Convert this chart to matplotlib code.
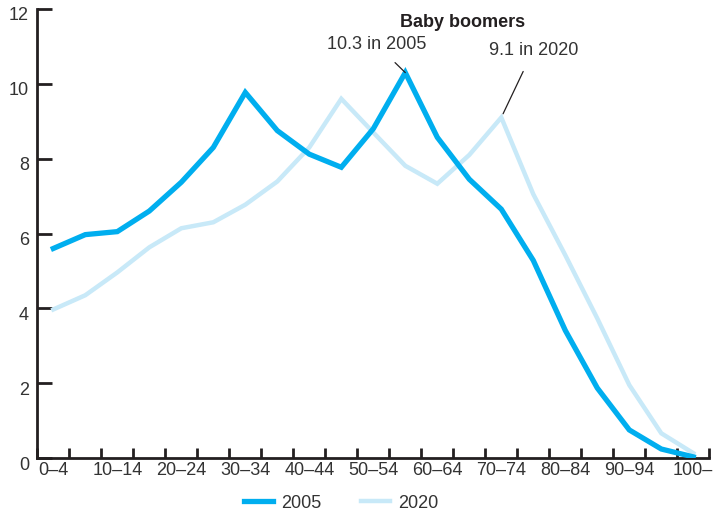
import matplotlib
matplotlib.use("Agg")
import matplotlib.pyplot as plt
import matplotlib.transforms as mtransforms
import numpy as np

categories = ["0–4", "5–9", "10–14", "15–19", "20–24", "25–29", "30–34", "35–39",
              "40–44", "45–49", "50–54", "55–59", "60–64", "65–69", "70–74", "75–79",
              "80–84", "85–89", "90–94", "95–99", "100–"]
values_2005 = [5.6, 5.97, 6.05, 6.6, 7.37, 8.3, 9.77, 8.75, 8.12, 7.77, 8.8, 10.3,
               8.57, 7.45, 6.65, 5.28, 3.41, 1.87, 0.75, 0.24, 0.03]
values_2020 = [3.97, 4.35, 4.96, 5.63, 6.14, 6.3, 6.77, 7.39, 8.3, 9.6, 8.7, 7.81,
               7.33, 8.1, 9.1, 7.05, 5.42, 3.73, 1.95, 0.66, 0.13]
yticks = [0, 2, 4, 6, 8, 10, 12]

dark = "#00AEEF"
light = "#C8E9F8"
txt = "#333333"

plt.rcParams["font.family"] = ["Liberation Sans", "DejaVu Sans"]
FS = 13

W, H = 714, 516
fig = plt.figure(figsize=(W / 100, H / 100), dpi=100)
ax = fig.add_axes([37.3 / W, 1 - 458 / H, (709.3 - 37.3) / W, (458 - 9) / H])

x = np.arange(len(categories))
ax.plot(x, values_2020, color=light, lw=3.2, solid_joinstyle="miter", label="2020", zorder=2)
ax.plot(x, values_2005, color=dark, lw=3.8, solid_joinstyle="miter", label="2005", zorder=3)

ax.set_xlim(-0.5, len(categories) - 0.5)
ax.set_ylim(0, 12)

for s in ["top", "right"]:
    ax.spines[s].set_visible(False)
for s in ["left", "bottom"]:
    ax.spines[s].set_linewidth(2.0)
    ax.spines[s].set_color("#231f20")

ax.set_yticks(yticks)
ax.set_yticklabels([str(v) for v in yticks])
ax.tick_params(axis="y", direction="in", length=11, width=2.0, color="#231f20",
               labelsize=FS, labelcolor=txt, pad=6)
offset = mtransforms.ScaledTranslation(0, -5 / 100, fig.dpi_scale_trans)
for lab in ax.get_yticklabels():
    lab.set_transform(lab.get_transform() + offset)

ax.set_xticks(np.arange(-0.5, len(categories) - 0.4, 1.0))
ax.set_xticklabels([])
ax.set_xticks(x[::2], minor=True)
ax.set_xticklabels([categories[i] for i in x[::2]], minor=True)
ax.tick_params(axis="x", which="major", direction="in", length=7.5, width=2.0, color="#231f20")
ax.tick_params(axis="x", which="minor", length=0, labelsize=FS, labelcolor=txt, pad=3)

# Annotations
ax.text(12.8, 11.65, "Baby boomers", ha="center", va="center", fontsize=FS,
        fontweight="bold", color="#231f20")
ax.annotate("10.3 in 2005", xy=(11, values_2005[11]), xytext=(10.1, 11.05),
            ha="center", va="center", fontsize=FS, color=txt,
            arrowprops=dict(arrowstyle="-", color="#231f20", lw=0.9,
                            shrinkA=7, shrinkB=0))
ax.annotate("9.1 in 2020", xy=(14, values_2020[14]), xytext=(15.0, 10.9),
            ha="center", va="center", fontsize=FS, color=txt,
            arrowprops=dict(arrowstyle="-", color="#231f20", lw=0.9,
                            shrinkA=8, shrinkB=3))

handles, labels = ax.get_legend_handles_labels()
order = [1, 0]
fig.legend([handles[i] for i in order], [labels[i] for i in order],
           loc="center", bbox_to_anchor=(341 / W, 1 - 503 / H), ncol=2, frameon=False,
           fontsize=FS, labelcolor=txt, handlelength=1.6, handletextpad=0.45,
           columnspacing=2.2)

fig.savefig("out.png", dpi=100)
